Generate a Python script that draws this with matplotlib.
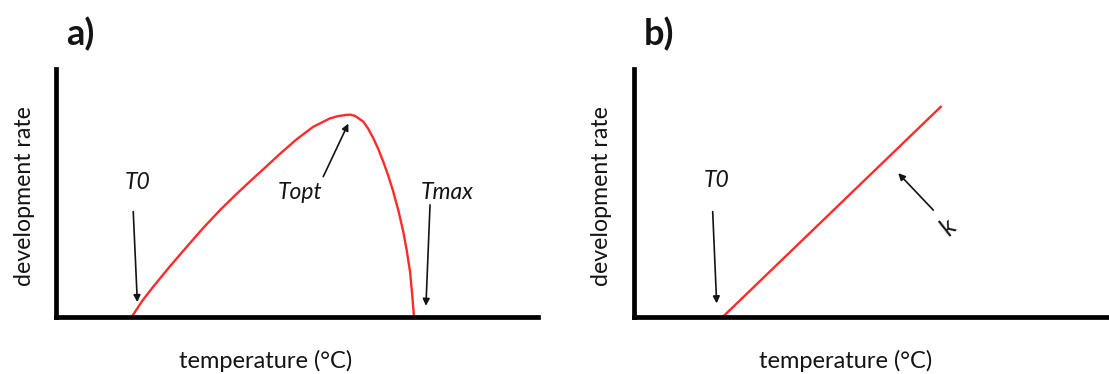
import matplotlib
matplotlib.use("Agg")
import matplotlib.pyplot as plt

W, H = 1109, 374
DPI = 100

# Panel a: nonlinear response of development rate to temperature
temp_a = [6.28, 7.20, 8.07, 9.45, 10.85, 12.20, 13.61, 15.00, 16.37, 17.50,
          18.59, 19.98, 21.35, 22.74, 23.40, 24.12, 24.40, 24.81, 25.50,
          25.90, 26.33, 26.75, 27.16, 27.58, 27.99, 28.42, 28.82, 29.10,
          29.38, 29.55, 29.71]
rate_a = [0.000, 0.068, 0.122, 0.204, 0.283, 0.358, 0.431, 0.497, 0.559, 0.609,
          0.658, 0.717, 0.767, 0.801, 0.810, 0.815, 0.816, 0.811, 0.788,
          0.760, 0.721, 0.677, 0.626, 0.569, 0.505, 0.428, 0.344, 0.270,
          0.183, 0.095, 0.000]

# Panel b: linear (degree-day) response
temp_b = [7.36, 25.53]
rate_b = [0.0, 0.851]

panel_labels = ["a)", "b)"]
x_label = "temperature (°C)"
y_label = "development rate"

FONT = "Lato"
TEXT_COLOR = "#141414"
RED = "#ff2a2a"

fig = plt.figure(figsize=(W / DPI, H / DPI), dpi=DPI)


def px_box(left, right, top, bottom):
    return [left / W, 1 - bottom / H, (right - left) / W, (bottom - top) / H]


def style_axes(ax, xmax):
    ax.set_xlim(0, xmax)
    ax.set_ylim(0, 1)
    for side in ("top", "right"):
        ax.spines[side].set_visible(False)
    for side in ("left", "bottom"):
        ax.spines[side].set_linewidth(3.4)
        ax.spines[side].set_color("black")
        ax.spines[side].set_capstyle("projecting")
    ax.set_xticks([])
    ax.set_yticks([])
    ax.patch.set_alpha(0)


def arrow(ax, tail, tip):
    ax.annotate("", xy=tip, xytext=tail,
                arrowprops=dict(arrowstyle="-|>", color=TEXT_COLOR, lw=1.2,
                                mutation_scale=10, shrinkA=0, shrinkB=0))


def label(ax, xy, s, rotation=0, size=16.5):
    ax.text(xy[0], xy[1], s, ha="center", va="center", fontsize=size,
            fontstyle="italic", family=FONT, color=TEXT_COLOR,
            rotation=rotation)


PX_PER_UNIT = 12.05

# ---- panel a ----
ax_a = fig.add_axes(px_box(56, 538, 69, 317))
style_axes(ax_a, (538 - 56) / PX_PER_UNIT)
ax_a.plot(temp_a, rate_a, color=RED, lw=1.7, solid_capstyle="butt",
          solid_joinstyle="round", zorder=1)
label(ax_a, (6.8, 0.544), "T0")
arrow(ax_a, (6.41, 0.425), (6.75, 0.06))
label(ax_a, (20.25, 0.504), "Topt")
arrow(ax_a, (22.18, 0.566), (24.26, 0.78))
label(ax_a, (32.45, 0.504), "Tmax")
arrow(ax_a, (31.04, 0.452), (30.7, 0.045))

# ---- panel b ----
ax_b = fig.add_axes(px_box(634, 1109, 69, 317))
style_axes(ax_b, (1109 - 634) / PX_PER_UNIT)
ax_b.plot(temp_b, rate_b, color=RED, lw=1.7, solid_capstyle="butt", zorder=1)
label(ax_b, (6.89, 0.552), "T0")
arrow(ax_b, (6.53, 0.425), (6.86, 0.055))
arrow(ax_b, (24.84, 0.431), (21.93, 0.58))
label(ax_b, (26.06, 0.359), "k", rotation=45, size=18)

# ---- shared text ----
for px, lab in zip((80, 659), panel_labels):
    fig.text(px / W, 1 - 34 / H, lab, ha="center", va="center", fontsize=26,
             fontweight="bold", family=FONT, color=TEXT_COLOR)
for px in (266, 846):
    fig.text(px / W, 1 - 361 / H, x_label, ha="center", va="center",
             fontsize=17, family=FONT, color=TEXT_COLOR)
for px in (25, 602):
    fig.text(px / W, 1 - 196 / H, y_label, ha="center", va="center",
             fontsize=16.7, family=FONT, color=TEXT_COLOR, rotation=90)

fig.savefig("out.png", dpi=DPI)
